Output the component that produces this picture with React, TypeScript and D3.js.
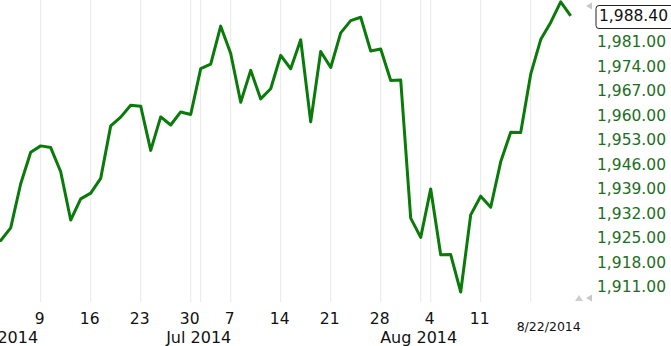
import React from "react";
import * as d3 from "d3";

const dates: string[] = [
  "2014-06-02", "2014-06-03", "2014-06-04", "2014-06-05", "2014-06-06",
  "2014-06-09", "2014-06-10", "2014-06-11", "2014-06-12", "2014-06-13",
  "2014-06-16", "2014-06-17", "2014-06-18", "2014-06-19", "2014-06-20",
  "2014-06-23", "2014-06-24", "2014-06-25", "2014-06-26", "2014-06-27",
  "2014-06-30", "2014-07-01", "2014-07-02", "2014-07-03",
  "2014-07-07", "2014-07-08", "2014-07-09", "2014-07-10", "2014-07-11",
  "2014-07-14", "2014-07-15", "2014-07-16", "2014-07-17", "2014-07-18",
  "2014-07-21", "2014-07-22", "2014-07-23", "2014-07-24", "2014-07-25",
  "2014-07-28", "2014-07-29", "2014-07-30", "2014-07-31", "2014-08-01",
  "2014-08-04", "2014-08-05", "2014-08-06", "2014-08-07", "2014-08-08",
  "2014-08-11", "2014-08-12", "2014-08-13", "2014-08-14", "2014-08-15",
  "2014-08-18", "2014-08-19", "2014-08-20", "2014-08-21", "2014-08-22",
];

const closes: number[] = [
  1924.97, 1924.24, 1927.88, 1940.46, 1949.44,
  1951.27, 1950.79, 1943.89, 1930.11, 1936.16,
  1937.78, 1941.99, 1956.98, 1959.48, 1962.87,
  1962.61, 1949.98, 1959.53, 1957.22, 1960.96,
  1960.23, 1973.32, 1974.62, 1985.44,
  1977.65, 1963.71, 1972.83, 1964.68, 1967.57,
  1977.1, 1973.28, 1981.57, 1958.12, 1978.22,
  1973.63, 1983.53, 1987.01, 1987.98, 1978.34,
  1978.91, 1969.95, 1970.07, 1930.67, 1925.15,
  1938.99, 1920.21, 1920.24, 1909.57, 1931.59,
  1936.92, 1933.75, 1946.72, 1955.18, 1955.06,
  1971.74, 1981.6, 1986.51, 1992.37, 1988.4,
];

const yTicks: number[] = [1911, 1918, 1925, 1932, 1939, 1946, 1953, 1960, 1967, 1974, 1981];
const lastValue = 1988.4;
const lastDateLabel = "8/22/2014";

const gridDates: string[] = [
  "2014-06-09", "2014-06-16", "2014-06-23", "2014-06-30", "2014-07-01",
  "2014-07-07", "2014-07-14", "2014-07-21", "2014-07-28", "2014-08-01",
  "2014-08-04", "2014-08-11", "2014-08-18",
];
const weekLabelDates: string[] = [
  "2014-06-09", "2014-06-16", "2014-06-23", "2014-06-30", "2014-07-07",
  "2014-07-14", "2014-07-21", "2014-07-28", "2014-08-04", "2014-08-11",
];
const monthLabelDates: string[] = ["2014-06-03", "2014-07-01", "2014-08-01"];
const monthLabels: string[] = ["Jun 2014", "Jul 2014", "Aug 2014"];

const W = 671;
const H = 346;
const FONT = "'DejaVu Sans', Verdana, sans-serif";

export default function App() {
  const idx = (d: string) => dates.indexOf(d);
  const x = d3.scaleLinear().domain([1, dates.length - 1]).range([0.7, 0.7 + 10 * (dates.length - 2)]);
  const y = d3.scaleLinear().domain([1911, 1981]).range([287, 41.7]);
  const line = d3
    .line<number>()
    .x((_, i) => x(i))
    .y((v) => y(v));
  const fmt = d3.format(",.2f");
  const lastX = x(dates.length - 1);

  return (
    <>
      <style>{`body{margin:0}`}</style>
      <svg width={W} height={H} style={{ display: "block", overflow: "hidden" }} fontFamily={FONT}>
        <rect x={0} y={0} width={W} height={H} fill="#fff" />
        {gridDates.map((d) => (
          <line key={d} x1={x(idx(d))} x2={x(idx(d))} y1={0} y2={302} stroke="#e8e8e8" strokeWidth={1} />
        ))}
        <path d={line(closes) || ""} fill="none" stroke="#0a7a0a" strokeWidth={3} strokeLinejoin="round" />
        {yTicks.map((t) => (
          <text key={t} x={597} y={y(t)} dy="0.35em" fontSize={15.5} fill="#1e6e1e">
            {fmt(t)}
          </text>
        ))}
        <rect x={596} y={5.5} width={80} height={23} rx={3} fill="#fff" stroke="#222" strokeWidth={1} />
        <text x={599} y={y(lastValue)} dy="0.35em" fontSize={15.5} fill="#111">
          {fmt(lastValue)}
        </text>
        <path d="M586,6 L592,2.5 L592,9.5 Z" fill="#c8c8c8" />
        <path d="M575,301 L579,295 L583,301 Z" fill="#cfcfcf" />
        <path d="M586,298 L592,294.5 L592,301.5 Z" fill="#c8c8c8" />
        {weekLabelDates.map((d) => (
          <text key={d} x={x(idx(d)) - 1} y={319} dy="0.35em" textAnchor="middle" fontSize={15.5} fill="#111">
            {+d.slice(8)}
          </text>
        ))}
        {monthLabelDates.map((d, i) => (
          <text key={d} x={x(idx(d)) + (i === 0 ? 2 : -2)} y={337} dy="0.35em" textAnchor="middle" fontSize={16} fill="#111">
            {monthLabels[i]}
          </text>
        ))}
        <text x={lastX - 22} y={327} dy="0.35em" textAnchor="middle" fontSize={12.5} fill="#111">
          {lastDateLabel}
        </text>
      </svg>
    </>
  );
}
